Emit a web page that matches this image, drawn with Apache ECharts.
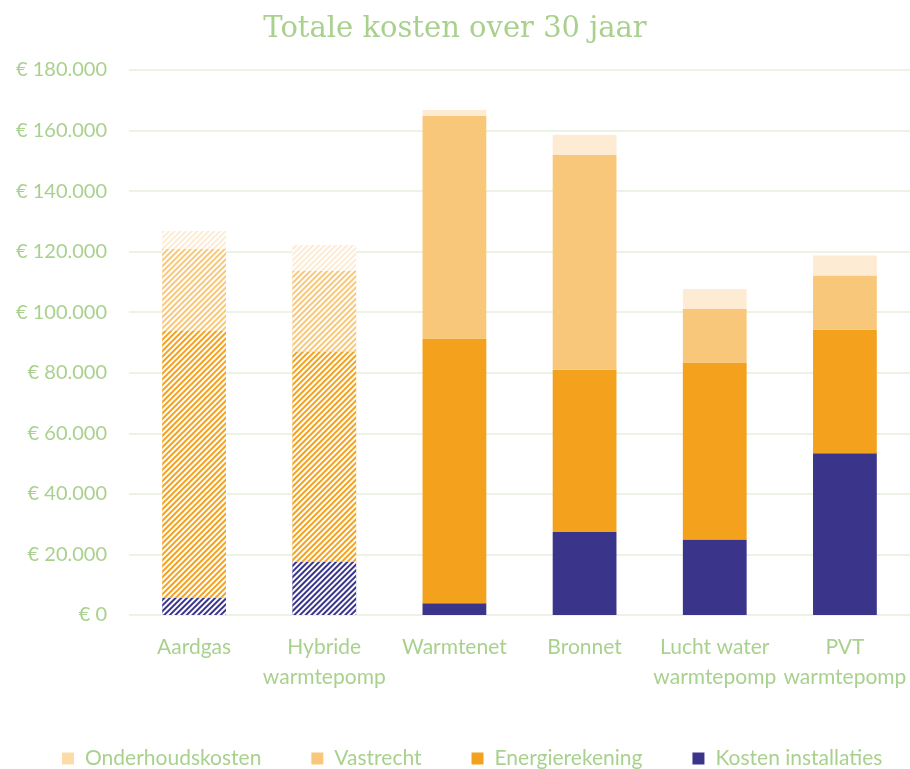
<!DOCTYPE html>
<html>
<head>
<meta charset="utf-8">
<title>Totale kosten over 30 jaar</title>
<script src="https://cdn.jsdelivr.net/npm/echarts@6/dist/echarts.min.js"></script>
<style>
  html, body { margin: 0; padding: 0; background: #fff; }
  #chart { width: 910px; height: 769px; }
</style>
</head>
<body>
<div id="chart"></div>
<script>
// categorieën en kosten per onderdeel (euro)
var categories = ['Aardgas', 'Hybride\nwarmtepomp', 'Warmtenet', 'Bronnet', 'Lucht water\nwarmtepomp', 'PVT\nwarmtepomp'];
var installaties = [5700, 17600, 3900, 27400, 24900, 53400];
var energie = [88100, 69400, 87400, 53600, 58500, 40800];
var vastrecht = [27100, 26600, 73600, 71000, 17700, 17900];
var onderhoud = [5900, 8600, 1900, 6600, 6600, 6600];
// de eerste twee staven zijn gearceerd
var gearceerd = [true, true, false, false, false, false];

var groen = '#A9D18E';
var font = 'Lato';

var streep = {
  color: '#ffffff',
  backgroundColor: 'transparent',
  symbol: 'rect',
  symbolSize: 1,
  dashArrayX: [1, 0],
  dashArrayY: [2, 2],
  rotation: -Math.PI / 4
};

function maakData(values) {
  return values.map(function (v, i) {
    if (gearceerd[i]) {
      return { value: v, itemStyle: { decal: streep } };
    }
    return v;
  });
}

function serie(name, values, color) {
  return {
    name: name,
    type: 'bar',
    stack: 'totaal',
    barWidth: '49%',
    itemStyle: { color: color },
    emphasis: { disabled: true },
    data: maakData(values)
  };
}

var myChart = echarts.init(document.getElementById('chart'));
myChart.setOption({
  animation: false,
  aria: { enabled: true, decal: { show: false } },
  title: {
    text: 'Totale kosten over 30 jaar',
    left: 'center',
    top: 10,
    textStyle: {
      fontFamily: 'DejaVu Serif',
      fontSize: 29,
      fontWeight: 'normal',
      color: groen
    }
  },
  legend: {
    bottom: -5,
    left: 57,
    itemWidth: 12,
    itemHeight: 12,
    itemGap: 50,
    icon: 'rect',
    textStyle: { fontFamily: font, fontSize: 21, color: groen, padding: [0, 0, 0, 6] },
    data: [
      { name: 'Onderhoudskosten', itemStyle: { color: '#FBDCA8' } },
      { name: 'Vastrecht' },
      { name: 'Energierekening' },
      { name: 'Kosten installaties' }
    ]
  },
  grid: {
    left: 129,
    width: 785,
    top: 70,
    bottom: 154
  },
  xAxis: {
    type: 'category',
    data: categories,
    axisLine: { show: false },
    axisTick: { show: false },
    axisLabel: {
      interval: 0,
      margin: 17,
      fontFamily: font,
      fontSize: 21,
      lineHeight: 30,
      color: groen
    }
  },
  yAxis: {
    type: 'value',
    min: 0,
    max: 180000,
    interval: 20000,
    axisLine: { show: false },
    axisTick: { show: false },
    splitLine: { lineStyle: { color: '#EBF3E4', width: 2 } },
    axisLabel: {
      margin: 22,
      fontFamily: font,
      fontSize: 20,
      color: groen,
      formatter: function (v) {
        return '€ ' + v.toString().replace(/\B(?=(\d{3})+(?!\d))/g, '.');
      }
    }
  },
  series: [
    serie('Kosten installaties', installaties, '#3A358B'),
    serie('Energierekening', energie, '#F4A11D'),
    serie('Vastrecht', vastrecht, '#F8C77A'),
    serie('Onderhoudskosten', onderhoud, '#FDEBD3')
  ]
});
</script>
</body>
</html>
